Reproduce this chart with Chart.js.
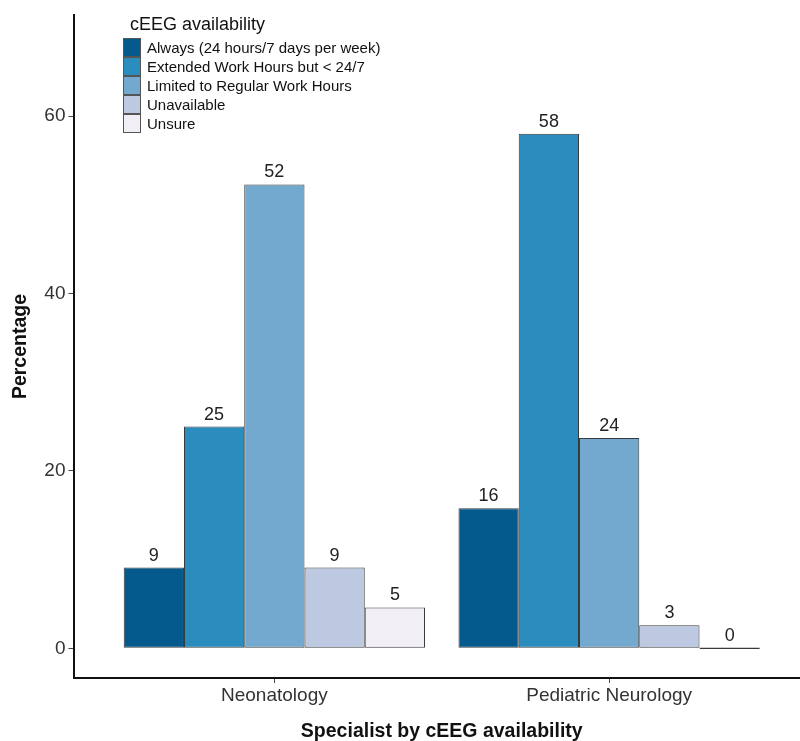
<!DOCTYPE html>
<html>
<head>
<meta charset="utf-8">
<script src="https://cdn.jsdelivr.net/npm/chart.js@4.4.1/dist/chart.umd.min.js"></script>
<style>
  html, body { margin: 0; padding: 0; background: #fff; overflow: hidden; }
  #wrap { position: relative; width: 820px; height: 741px; }
  #legend { position: absolute; left: 123px; top: 13px; font-family: 'Liberation Sans', Arial, sans-serif; color: #111; }
  #legend .title { font-size: 18px; line-height: 22px; margin-left: 7px; margin-bottom: 3px; }
  #legend .item { display: flex; align-items: center; height: 19px; }
  #legend .box { width: 16px; height: 17px; border: 1px solid #555; margin-right: 6px; }
  #legend .label { font-size: 15px; line-height: 19px; }
</style>
</head>
<body>
<div id="wrap">
  <canvas id="chart" width="820" height="741"></canvas>
  <div id="legend"></div>
</div>
<script>
// --- data ---
const categories = ['Neonatology', 'Pediatric Neurology'];
const xPositions = [1, 2];
const seriesNames = [
  'Always (24 hours/7 days per week)',
  'Extended Work Hours but < 24/7',
  'Limited to Regular Work Hours',
  'Unavailable',
  'Unsure'
];
const always = [9.1, 15.8];
const extended = [25.0, 58.0];
const limited = [52.3, 23.7];
const unavailable = [9.1, 2.6];
const unsure = [4.6, 0];
const yTicks = [0, 20, 40, 60];

// PuBu palette
const colors = ['#045a8d', '#2b8cbe', '#74a9cf', '#bdc9e1', '#f1eef6'];
const seriesValues = [always, extended, limited, unavailable, unsure];

const FONT = "'Liberation Sans', Arial, sans-serif";

// legend (html, inside plot area like ggplot)
function buildLegend() {
  const el = document.getElementById('legend');
  let html = '<div class="title">cEEG availability</div>';
  seriesNames.forEach((name, i) => {
    html += '<div class="item"><div class="box" style="background:' + colors[i] + '"></div>' +
      '<div class="label">' + name.replace('<', '&lt;') + '</div></div>';
  });
  el.innerHTML = html;
}

// value labels above bars
const barLabels = {
  id: 'barLabels',
  afterDatasetsDraw(chart) {
    const ctx = chart.ctx;
    ctx.save();
    ctx.font = '18px ' + FONT;
    ctx.fillStyle = '#222';
    ctx.textAlign = 'center';
    ctx.textBaseline = 'bottom';
    chart.data.datasets.forEach((ds, di) => {
      const meta = chart.getDatasetMeta(di);
      meta.data.forEach((bar, i) => {
        const v = ds.data[i].y;
        const top = Math.min(bar.y, bar.base);
        ctx.fillText(String(Math.round(v)), bar.x, top - 3);
      });
    });
    ctx.restore();
  }
};

function renderChart() {
  const canvas = document.getElementById('chart');

  const datasets = seriesNames.map((name, i) => ({
    label: name,
    data: seriesValues[i].map((v, j) => ({ x: xPositions[j], y: v })),
    backgroundColor: colors[i],
    borderColor: '#3a3a3a',
    borderWidth: 1,
    borderSkipped: false,
    minBarLength: 1.5,
    categoryPercentage: 0.9,
    barPercentage: 1.0,
  }));

  new Chart(canvas, {
    type: 'bar',
    data: { datasets: datasets },
    plugins: [barLabels],
    options: {
      responsive: false,
      animation: false,
      layout: { padding: { top: 15, right: 10, left: 0, bottom: 0 } },
      plugins: {
        legend: { display: false },
        tooltip: { enabled: false },
      },
      scales: {
        x: {
          type: 'linear',
          min: 0.4,
          max: 2.6,
          offset: false,
          afterBuildTicks: scale => { scale.ticks = xPositions.map(v => ({ value: v })); },
          afterFit: scale => { scale.height = 63; },
          grid: { display: true, drawOnChartArea: false, drawTicks: true, tickLength: 5, color: '#444', offset: false },
          border: { display: true, color: '#111', width: 2 },
          ticks: {
            autoSkip: false,
            maxRotation: 0,
            padding: 1,
            color: '#333',
            font: { family: FONT, size: 19 },
            callback: (val, index) => categories[index],
          },
          title: {
            display: true,
            text: 'Specialist by cEEG availability',
            color: '#111',
            font: { family: FONT, size: 19.5, weight: 'bold', lineHeight: 1 },
            padding: { top: 0, bottom: 0 },
          },
        },
        y: {
          min: -3.35,
          max: 71.4,
          afterBuildTicks: scale => { scale.ticks = yTicks.map(v => ({ value: v })); },
          afterFit: scale => { scale.width = 73.5; },
          grid: { display: true, drawOnChartArea: false, drawTicks: true, tickLength: 5, color: '#444' },
          border: { display: true, color: '#111', width: 2 },
          ticks: {
            padding: 3,
            color: '#333',
            font: { family: FONT, size: 19 },
          },
          title: {
            display: true,
            text: 'Percentage',
            color: '#111',
            font: { family: FONT, size: 19.5, weight: 'bold', lineHeight: 1 },
            padding: { top: 11, bottom: 0 },
          },
        },
      },
    },
  });
}

buildLegend();
renderChart();
</script>
</body>
</html>
